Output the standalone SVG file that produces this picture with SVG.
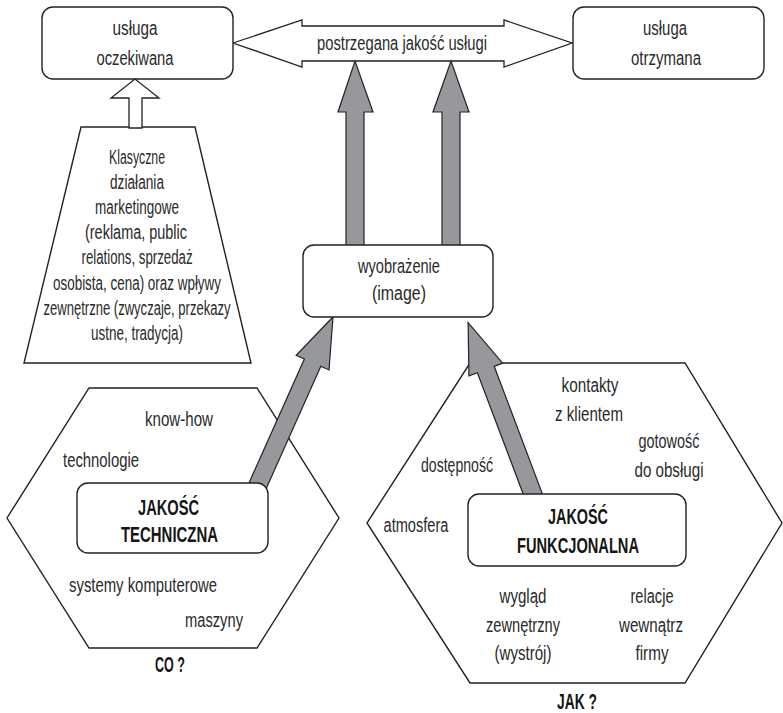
<svg xmlns="http://www.w3.org/2000/svg" width="783" height="713" viewBox="0 0 783 713">
<style>
.t{font-family:"Liberation Sans",Arial,sans-serif;font-size:20px;fill:#2a2a2a;text-anchor:middle}
.b{font-weight:bold;font-size:22px;fill:#151515}
.box{fill:#fff;stroke:#222;stroke-width:1.4}
.sh{fill:#fff;stroke:#222;stroke-width:1.4;stroke-linejoin:miter}
.ga{fill:#97989b;stroke:#222;stroke-width:1.2;stroke-linejoin:miter}
.wa{fill:#fff;stroke:#222;stroke-width:1.3;stroke-linejoin:miter}
</style>
<defs>
<polygon id="gar" points="-9,0 -9,-139.5 -18,-139.5 0,-189.5 18,-139.5 9,-139.5 9,0"/>
</defs>

<g id="marketing">
<polygon class="sh" points="81,127 195,127 251,363 24,363"/>
<text class="t" x="137" y="164" textLength="56" lengthAdjust="spacingAndGlyphs">Klasyczne</text>
<text class="t" x="137" y="189" textLength="54" lengthAdjust="spacingAndGlyphs">działania</text>
<text class="t" x="137" y="214" textLength="84" lengthAdjust="spacingAndGlyphs">marketingowe</text>
<text class="t" x="136" y="239" textLength="102" lengthAdjust="spacingAndGlyphs">(reklama, public</text>
<text class="t" x="137" y="264" textLength="111" lengthAdjust="spacingAndGlyphs">relations, sprzedaż</text>
<text class="t" x="137" y="290" textLength="168" lengthAdjust="spacingAndGlyphs">osobista, cena) oraz wpływy</text>
<text class="t" x="137" y="315" textLength="187" lengthAdjust="spacingAndGlyphs">zewnętrzne (zwyczaje, przekazy</text>
<text class="t" x="137" y="340" textLength="92" lengthAdjust="spacingAndGlyphs">ustne, tradycja)</text>
</g>

<g id="hex-co">
<polygon class="sh" points="89,388 257,388 339,518 257,648 89,648 7,518"/>
<text class="t" x="179" y="426" textLength="68" lengthAdjust="spacingAndGlyphs">know-how</text>
<text class="t" x="101" y="467" textLength="76" lengthAdjust="spacingAndGlyphs">technologie</text>
<text class="t" x="143" y="592" textLength="148" lengthAdjust="spacingAndGlyphs">systemy komputerowe</text>
<text class="t" x="214" y="627" textLength="58" lengthAdjust="spacingAndGlyphs">maszyny</text>
<text class="t b" x="170" y="672" textLength="30" lengthAdjust="spacingAndGlyphs">CO ?</text>
</g>

<g id="hex-jak">
<polygon class="sh" points="470,363 685,363 782,523 685,683 470,683 367,523"/>
<text class="t" x="590" y="392" textLength="57" lengthAdjust="spacingAndGlyphs">kontakty</text>
<text class="t" x="589" y="421" textLength="68" lengthAdjust="spacingAndGlyphs">z klientem</text>
<text class="t" x="669" y="448" textLength="61" lengthAdjust="spacingAndGlyphs">gotowość</text>
<text class="t" x="669" y="477" textLength="69" lengthAdjust="spacingAndGlyphs">do obsługi</text>
<text class="t" x="457" y="472" textLength="72" lengthAdjust="spacingAndGlyphs">dostępność</text>
<text class="t" x="416" y="532" textLength="65" lengthAdjust="spacingAndGlyphs">atmosfera</text>
<text class="t" x="523" y="603" textLength="47" lengthAdjust="spacingAndGlyphs">wygląd</text>
<text class="t" x="523" y="632" textLength="74" lengthAdjust="spacingAndGlyphs">zewnętrzny</text>
<text class="t" x="523" y="660" textLength="57" lengthAdjust="spacingAndGlyphs">(wystrój)</text>
<text class="t" x="652" y="603" textLength="43" lengthAdjust="spacingAndGlyphs">relacje</text>
<text class="t" x="651" y="632" textLength="64" lengthAdjust="spacingAndGlyphs">wewnątrz</text>
<text class="t" x="652" y="660" textLength="33" lengthAdjust="spacingAndGlyphs">firmy</text>
<text class="t b" x="577" y="709" textLength="40" lengthAdjust="spacingAndGlyphs">JAK ?</text>
</g>

<g id="connectors">
<polygon id="perceived" class="wa" points="233,43 302,20 302,26 504,26 504,20 572,43 504,67 504,61 302,61 302,67"/>
<text class="t" x="402" y="50" textLength="170" lengthAdjust="spacingAndGlyphs">postrzegana jakość usługi</text>
<polygon class="wa" points="129,128 129,98 111,98 135,79 159,98 142,98 142,128"/>
<polygon class="ga" points="346,250 346,112 338,112 355,61 373,112 364,112 364,250"/>
<polygon class="ga" points="442,250 442,112 433,112 451,61 469,112 460,112 460,250"/>
<use href="#gar" class="ga" transform="translate(255.7,490) rotate(24.07)"/>
<use href="#gar" class="ga" transform="translate(535.1,500) rotate(-20.7)"/>
</g>

<g id="expected">
<rect class="box" x="42" y="7" width="191" height="72" rx="11"/>
<text class="t" x="135" y="35" textLength="45" lengthAdjust="spacingAndGlyphs">usługa</text>
<text class="t" x="135" y="65" textLength="77" lengthAdjust="spacingAndGlyphs">oczekiwana</text>
</g>

<g id="received">
<rect class="box" x="573" y="7" width="191" height="72" rx="11"/>
<text class="t" x="665" y="35" textLength="44" lengthAdjust="spacingAndGlyphs">usługa</text>
<text class="t" x="666" y="65" textLength="70" lengthAdjust="spacingAndGlyphs">otrzymana</text>
</g>

<g id="image">
<rect class="box" x="303" y="245" width="190" height="72" rx="11"/>
<text class="t" x="399" y="273" textLength="82" lengthAdjust="spacingAndGlyphs">wyobrażenie</text>
<text class="t" x="399" y="300" textLength="54" lengthAdjust="spacingAndGlyphs">(image)</text>
</g>

<g id="technical">
<rect class="box" x="77" y="483" width="191" height="70" rx="11"/>
<text class="t b" x="168.5" y="515" textLength="61" lengthAdjust="spacingAndGlyphs">JAKOŚĆ</text>
<text class="t b" x="169.5" y="542" textLength="97" lengthAdjust="spacingAndGlyphs">TECHNICZNA</text>
</g>

<g id="functional">
<rect class="box" x="468" y="494" width="218" height="72" rx="11"/>
<text class="t b" x="578" y="524" textLength="60" lengthAdjust="spacingAndGlyphs">JAKOŚĆ</text>
<text class="t b" x="578" y="553" textLength="122" lengthAdjust="spacingAndGlyphs">FUNKCJONALNA</text>
</g>
</svg>
